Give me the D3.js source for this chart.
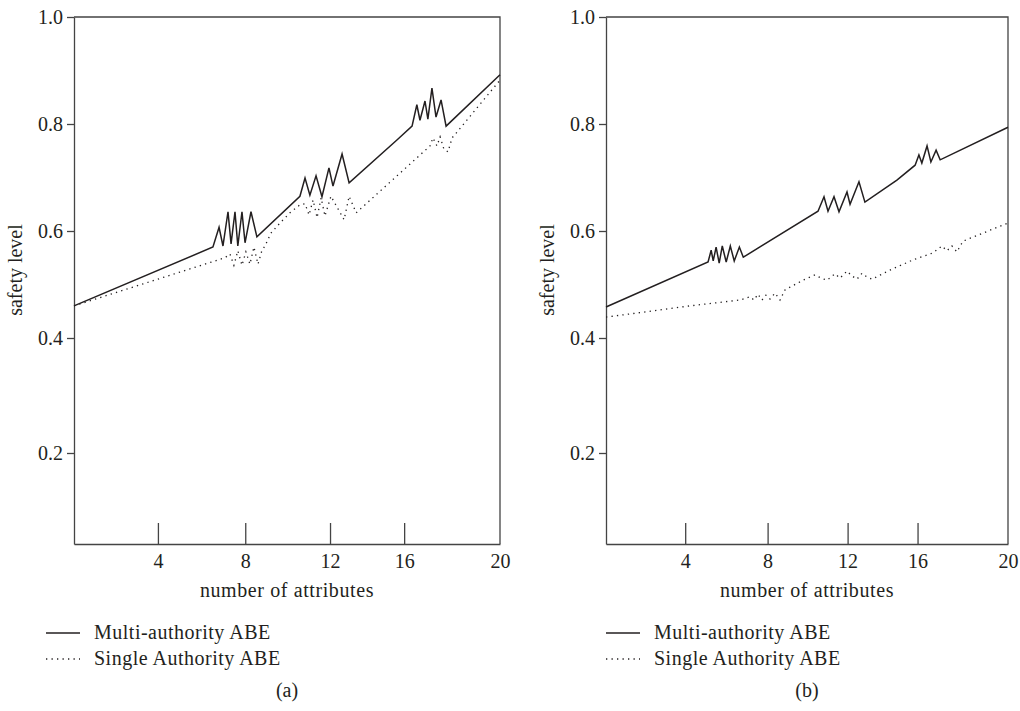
<!DOCTYPE html>
<html>
<head>
<meta charset="utf-8">
<script src="https://d3js.org/d3.v7.min.js"></script>
<style>
body { margin: 0; background: #fff; }
text { font-family: "Liberation Serif", "Times New Roman", serif; fill: #231f20; }
</style>
</head>
<body>
<div id="chart"></div>
<script>
var xTicks = [4, 8, 12, 16, 20]
var yTicks = [0.2, 0.4, 0.6, 0.8, 1.0]
var seriesNames = ["Multi-authority ABE", "Single Authority ABE"]
var panelLabels = ["(a)", "(b)"]

// panel (a)
var multiAX = [0, 6.52, 6.80, 6.98, 7.21, 7.35, 7.53, 7.66, 7.85, 7.99, 8.27, 8.55,
  10.58, 10.82, 11.05, 11.34, 11.62, 11.95, 12.16, 12.65, 13.03, 15.61,
  16.33, 16.53, 16.66, 16.87, 16.99, 17.16, 17.33, 17.54, 17.75, 20]
var multiAY = [0.460, 0.570, 0.607, 0.572, 0.636, 0.576, 0.636, 0.572, 0.636, 0.578, 0.636, 0.589,
  0.665, 0.699, 0.667, 0.703, 0.664, 0.718, 0.684, 0.744, 0.690, 0.770,
  0.796, 0.836, 0.807, 0.843, 0.809, 0.867, 0.813, 0.845, 0.796, 0.892]
var singleAX = [0, 7.07, 7.30, 7.48, 7.66, 7.85, 8.03, 8.22, 8.41, 8.60, 8.79, 8.93,
  9.21, 9.64, 10.11, 10.58, 10.82, 11.01, 11.20, 11.39, 11.58, 11.76, 12.05, 12.76,
  13.03, 13.41, 17.08, 17.20, 17.37, 17.50, 17.66, 17.83, 18.00, 18.17, 20]
var singleAY = [0.460, 0.550, 0.557, 0.536, 0.563, 0.536, 0.561, 0.538, 0.570, 0.538, 0.564, 0.572,
  0.596, 0.615, 0.634, 0.649, 0.651, 0.630, 0.658, 0.625, 0.662, 0.628, 0.665, 0.621,
  0.665, 0.634, 0.759, 0.774, 0.759, 0.776, 0.753, 0.748, 0.774, 0.783, 0.882]

// panel (b)
var multiBX = [0, 5.11, 5.26, 5.36, 5.50, 5.65, 5.80, 5.99, 6.19, 6.38, 6.63, 6.82,
  10.52, 10.82, 11.02, 11.32, 11.57, 11.97, 12.14, 12.65, 12.99, 14.82,
  15.86, 16.06, 16.19, 16.42, 16.59, 16.82, 17.00, 20]
var multiBY = [0.458, 0.542, 0.564, 0.544, 0.570, 0.540, 0.572, 0.542, 0.572, 0.544, 0.570, 0.551,
  0.637, 0.664, 0.637, 0.664, 0.636, 0.673, 0.650, 0.692, 0.654, 0.695,
  0.723, 0.742, 0.727, 0.759, 0.729, 0.751, 0.733, 0.794]
var singleBX = [0, 4.23, 6.66, 7.15, 7.34, 7.53, 7.73, 7.92, 8.12, 8.37, 8.62, 8.87,
  9.77, 10.37, 10.67, 10.97, 11.37, 11.62, 11.97, 12.25, 12.54, 12.82, 13.11, 13.40,
  14.43, 15.74, 16.68, 17.08, 17.30, 17.52, 17.74, 18.01, 20]
var singleBY = [0.439, 0.460, 0.471, 0.477, 0.471, 0.482, 0.471, 0.480, 0.473, 0.484, 0.471, 0.490,
  0.508, 0.518, 0.512, 0.508, 0.520, 0.512, 0.525, 0.516, 0.510, 0.521, 0.514, 0.510,
  0.527, 0.546, 0.559, 0.572, 0.563, 0.572, 0.561, 0.581, 0.615]

var ink = '#231f20'
var svgWidth = 1020
var svgHeight = 711

var panels = [
  { left: 74, width: 426, legendLeft: 46, multi: [multiAX, multiAY], single: [singleAX, singleAY], label: panelLabels[0] },
  { left: 606, width: 402, legendLeft: 606, multi: [multiBX, multiBY], single: [singleBX, singleBY], label: panelLabels[1] }
]
var plotTop = 17
var height = 527

var svg = d3.select("#chart")
  .append("svg")
  .attr("width", svgWidth)
  .attr("height", svgHeight)

function zipPoints(xs, ys) {
  return xs.map(function(d, i) { return [d, ys[i]]; });
}

panels.forEach(function(p) {
  // the printed axes are not evenly spaced, so both scales are piecewise
  var x = d3.scaleLinear()
    .domain([0, 4, 8, 12, 16, 20])
    .range([0, 0.197, 0.402, 0.601, 0.775, 1].map(function(f) { return f * p.width; }))

  var y = d3.scaleLinear()
    .domain([0.042, 0.2, 0.4, 1.0])
    .range([height, 436, 321, 0])

  var g = svg.append("g")
    .attr("transform", "translate(" + p.left + "," + plotTop + ")")

  // frame: top and right sides
  g.append("path")
    .attr("d", "M0,0H" + p.width + "V" + height)
    .attr("fill", "none")
    .attr("stroke", "#444")
    .attr("stroke-width", 1.3)

  var xAxis = g.append("g")
    .attr("transform", "translate(0," + height + ")")
    .call(d3.axisBottom(x).tickValues(xTicks).tickSize(-21).tickSizeOuter(0).tickPadding(10))
  xAxis.selectAll("text").style("font-size", "20px")

  var yAxis = g.append("g")
    .call(d3.axisLeft(y).tickValues(yTicks).tickSize(7).tickSizeOuter(0).tickPadding(4).tickFormat(d3.format(".1f")))
  yAxis.selectAll("text").style("font-size", "20px")

  g.selectAll(".domain, .tick line")
    .attr("stroke", "#444")
    .attr("stroke-width", 1.3)
  // no tick at the right edge, the frame is there
  xAxis.selectAll(".tick line").filter(function(d) { return d === 20; }).remove()

  g.append("text")
    .attr("x", p.width / 2)
    .attr("y", 580)
    .attr("text-anchor", "middle")
    .style("font-size", "20px")
    .style("letter-spacing", "0.6px")
    .text("number of attributes")

  g.append("text")
    .attr("transform", "translate(-52," + 253 + ") rotate(-90)")
    .attr("text-anchor", "middle")
    .style("font-size", "20px")
    .text("safety level")

  var line = d3.line()
    .x(function(d) { return x(d[0]); })
    .y(function(d) { return y(d[1]); })

  g.append("path")
    .datum(zipPoints(p.single[0], p.single[1]))
    .attr("d", line)
    .attr("fill", "none")
    .attr("stroke", ink)
    .attr("stroke-width", 1.3)
    .attr("stroke-dasharray", "1.3,4.2")

  g.append("path")
    .datum(zipPoints(p.multi[0], p.multi[1]))
    .attr("d", line)
    .attr("fill", "none")
    .attr("stroke", ink)
    .attr("stroke-width", 1.5)
    .attr("stroke-linejoin", "miter")

  // legend
  var legend = svg.append("g")
  seriesNames.forEach(function(name, i) {
    var ly = 633 + i * 26
    legend.append("line")
      .attr("x1", p.legendLeft)
      .attr("x2", p.legendLeft + 34)
      .attr("y1", ly)
      .attr("y2", ly)
      .attr("stroke", ink)
      .attr("stroke-width", i === 0 ? 1.5 : 1.3)
      .attr("stroke-dasharray", i === 0 ? null : "1.3,4.2")
    legend.append("text")
      .attr("x", p.legendLeft + 48)
      .attr("y", ly + 6)
      .style("font-size", "20px")
      .style("letter-spacing", "0.5px")
      .text(name)
  })

  svg.append("text")
    .attr("x", p.left + p.width / 2)
    .attr("y", 697)
    .attr("text-anchor", "middle")
    .style("font-size", "20px")
    .text(p.label)
})
</script>
</body>
</html>
